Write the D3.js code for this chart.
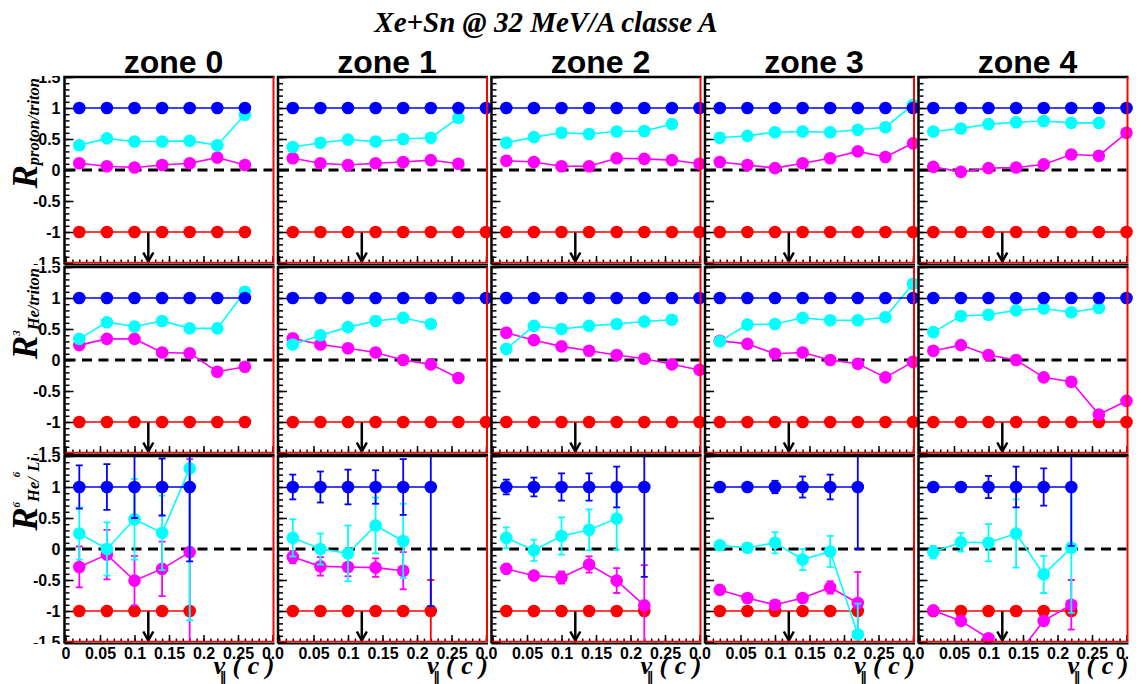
<!DOCTYPE html>
<html><head><meta charset="utf-8">
<script src="https://cdn.jsdelivr.net/npm/d3@7"></script>
<style>body{margin:0;background:#fff;} svg{display:block;}</style>
</head><body>
<svg id="chart" width="1141" height="684"></svg>
<script>
// ---------------- data ----------------
const title = "Xe+Sn @ 32 MeV/A classe A";
const zones = ["zone 0", "zone 1", "zone 2", "zone 3", "zone 4"];
const xBins = [0.02, 0.06, 0.10, 0.14, 0.18, 0.22, 0.26, 0.30];
const xTicks = [0, 0.05, 0.1, 0.15, 0.2, 0.25, 0.3];
const xTickLabels = ["0", "0.05", "0.1", "0.15", "0.2", "0.25", "0.3"];
const yTicks = [-1.5, -1, -0.5, 0, 0.5, 1, 1.5];
const yTickLabels = ["-1.5", "-1", "-0.5", "0", "0.5", "1", "1.5"];
const arrowX = 0.12;
const axisTitleX = ["v", "\u2016", "( c )"];
const rowTitles = [
  [["R", "big"], ["proton/triton", "sub"]],
  [["R", "big"], ["3", "sup"], ["He/triton", "sub"]],
  [["R", "big"], ["6", "sup"], ["He/", "sub"], ["6", "sup"], ["Li", "sub"]]
];

// row 1 : R proton/triton
const ptBlue = [[1,1,1,1,1,1,1],[1,1,1,1,1,1,1,1],[1,1,1,1,1,1,1,1],[1,1,1,1,1,1,1,1],[1,1,1,1,1,1,1,1]];
const ptCyan = [
  [0.40,0.51,0.46,0.46,0.47,0.40,0.89],
  [0.37,0.44,0.49,0.46,0.50,0.52,0.84],
  [0.44,0.53,0.60,0.58,0.62,0.63,0.74],
  [0.52,0.55,0.61,0.62,0.61,0.65,0.69,1.05],
  [0.62,0.67,0.74,0.77,0.79,0.76,0.76]
];
const ptMagenta = [
  [0.11,0.06,0.04,0.08,0.11,0.20,0.08],
  [0.19,0.11,0.08,0.11,0.13,0.16,0.10],
  [0.15,0.13,0.06,0.06,0.19,0.18,0.16,0.10],
  [0.13,0.08,0.03,0.11,0.19,0.30,0.21,0.43],
  [0.05,-0.03,0.03,0.04,0.09,0.25,0.23,0.60]
];
const ptRed = [[-1,-1,-1,-1,-1,-1,-1],[-1,-1,-1,-1,-1,-1,-1,-1],[-1,-1,-1,-1,-1,-1,-1,-1],[-1,-1,-1,-1,-1,-1,-1,-1],[-1,-1,-1,-1,-1,-1,-1,-1]];

// row 2 : R 3He/triton
const he3Blue = [[1,1,1,1,1,1,1],[1,1,1,1,1,1,1,1],[1,1,1,1,1,1,1,1],[1,1,1,1,1,1,1,1],[1,1,1,1,1,1,1,1]];
const he3Cyan = [
  [0.34,0.61,0.54,0.63,0.51,0.51,1.10],
  [0.25,0.40,0.53,0.63,0.68,0.58],
  [0.18,0.55,0.50,0.55,0.58,0.62,0.65],
  [0.30,0.57,0.58,0.68,0.64,0.64,0.69,1.23],
  [0.45,0.71,0.73,0.80,0.83,0.77,0.84]
];
const he3Magenta = [
  [0.24,0.34,0.34,0.12,0.11,-0.19,-0.11],
  [0.35,0.25,0.19,0.12,0.00,-0.07,-0.29],
  [0.44,0.32,0.22,0.15,0.08,0.02,-0.07,-0.16],
  [0.31,0.26,0.10,0.12,0.00,-0.06,-0.28,-0.03],
  [0.15,0.24,0.08,0.00,-0.28,-0.35,-0.88,-0.66]
];
const he3Red = [[-1,-1,-1,-1,-1,-1,-1],[-1,-1,-1,-1,-1,-1,-1,-1],[-1,-1,-1,-1,-1,-1,-1,-1],[-1,-1,-1,-1,-1,-1,-1,-1],[-1,-1,-1,-1,-1,-1,-1,-1]];

// row 3 : R 6He/6Li (with errors)
const he6Blue = [[1,1,1,1,1],[1,1,1,1,1,1],[1,1,1,1,1,1],[1,1,1,1,1,1],[1,1,1,1,1,1]];
const he6BlueErr = [[0.35,0.37,0.5,0.46,1.2],[0.2,0.25,0.28,0.27,0.45,1.92],[0.12,0.15,0.22,0.22,0.33,1.45],[0,0,0.1,0.17,0.2,1.0],[0,0.05,0.18,0.33,0.3,0.95]];
const he6Cyan = [[0.25,0.0,0.48,0.26,1.30],[0.18,0.0,-0.07,0.38,0.13],[0.18,-0.02,0.21,0.31,0.49],[0.06,0.02,0.10,-0.17,-0.04,-1.38],[-0.05,0.11,0.10,0.25,-0.41,0.02]];
const he6CyanErr = [[0.42,0.43,0.65,0.6,2.45],[0.3,0.25,0.45,0.45,0.6],[0.17,0.17,0.3,0.33,0.5],[0,0.05,0.17,0.17,0.25,0.5],[0.1,0.15,0.3,0.55,0.3,1.05]];
const he6Magenta = [[-0.29,-0.09,-0.51,-0.32,-0.05],[-0.13,-0.28,-0.29,-0.30,-0.35],[-0.32,-0.43,-0.46,-0.25,-0.51,-0.91],[-0.66,-0.79,-0.90,-0.79,-0.62,-0.87],[-0.99,-1.16,-1.44,-1.73,-1.16,-0.90]];
const he6MagentaErr = [[0.33,0.4,0.4,0.44,1.5],[0.1,0.15,0.15,0.15,0.3],[0.03,0.05,0.1,0.13,0.2,0.65],[0,0,0,0,0.1,0.5],[0,0,0,0,0,0.4]];
const he6Red = [[-1,-1,-1,-1,-1],[-1,-1,-1,-1,-1,-1],[-1,-1,-1,-1,-1,-1],[-1,-1,-1,-1,-1,-1],[-1,-1,-1,-1,-1,-1]];
const he6RedErr = [[0,0,0,0,0],[0,0,0,0,0,0.5],[0,0,0,0,0,0],[0,0,0,0,0,0],[0,0,0,0,0,0.05]];

// ---------------- layout / style ----------------
const colors = {red: "#ff0000", magenta: "#ff00ff", cyan: "#00ffff", blue: "#0000ff"};
const rowSeries = [
  [["red", ptRed, null], ["magenta", ptMagenta, null], ["cyan", ptCyan, null], ["blue", ptBlue, null]],
  [["red", he3Red, null], ["magenta", he3Magenta, null], ["cyan", he3Cyan, null], ["blue", he3Blue, null]],
  [["red", he6Red, he6RedErr], ["magenta", he6Magenta, he6MagentaErr], ["cyan", he6Cyan, he6CyanErr], ["blue", he6Blue, he6BlueErr]]
];
const X0 = 65.5, COL_STEP = 213.5, PLOT_W = 207, PLOT_H = 186;
const ROW_TOPS = [77, 267, 456];
const SANS = "'Liberation Sans', Arial, Helvetica, sans-serif";
const SERIF = "'Liberation Serif', 'Times New Roman', serif";

const svg = d3.select("#chart");
svg.append("rect").attr("width", 1141).attr("height", 684).attr("fill", "#fff");
const defs = svg.append("defs");

// title
svg.append("text").attr("x", 546).attr("y", 32).attr("text-anchor", "middle")
  .attr("font-family", SERIF).attr("font-style", "italic").attr("font-weight", "bold")
  .attr("font-size", 29).text(title);

// zone titles
zones.forEach((zn, z) => {
  svg.append("text").attr("x", X0 + z * COL_STEP + 108).attr("y", 73).attr("text-anchor", "middle")
    .attr("font-family", SANS).attr("font-weight", "bold").attr("font-size", 32).text(zn);
});

// row titles
rowTitles.forEach((parts, r) => {
  const t = svg.append("text")
    .attr("transform", `translate(37,${ROW_TOPS[r] + 1}) rotate(-90)`)
    .attr("text-anchor", "end").attr("font-family", SERIF)
    .attr("font-style", "italic").attr("font-weight", "bold");
  let level = 0;
  parts.forEach(([txt, kind]) => {
    const target = kind === "sup" ? -17 : (kind === "sub" ? 2 : 0);
    const size = kind === "big" ? 35 : (kind === "sup" ? 11 : 16.5);
    t.append("tspan").attr("dy", target - level).attr("font-size", size).text(txt);
    level = target;
  });
});

function drawPanel(r, z) {
  const x0 = X0 + z * COL_STEP, top = ROW_TOPS[r];
  const x = d3.scaleLinear().domain([0, 0.3]).range([x0, x0 + PLOT_W]);
  const y = d3.scaleLinear().domain([-1.5, 1.5]).range([top + PLOT_H, top]);
  const g = svg.append("g");
  const cid = `clip-${r}-${z}`;
  defs.append("clipPath").attr("id", cid).append("rect")
    .attr("x", x0).attr("y", top).attr("width", PLOT_W + 2).attr("height", PLOT_H);

  // axes (ticks inside)
  const yMajor = d3.axisLeft(y).tickValues(yTicks).tickSize(-8).tickPadding(5)
    .tickFormat((d, i) => z === 0 ? yTickLabels[i] : "");
  const yMinor = d3.axisLeft(y).tickValues(d3.range(-15, 16).map(k => k / 10)).tickSize(-4).tickFormat("");
  const ycid = `yclip-${r}-${z}`;
  defs.append("clipPath").attr("id", ycid).append("rect")
    .attr("x", 0).attr("y", top - 1).attr("width", x0 + 10).attr("height", PLOT_H + 3);
  g.append("g").attr("clip-path", `url(#${ycid})`)
    .append("g").attr("transform", `translate(${x0},0)`).call(yMajor);
  g.append("g").attr("transform", `translate(${x0},0)`).call(yMinor);

  const xMajor = d3.axisBottom(x).tickValues(xTicks).tickSize(-7).tickPadding(6)
    .tickFormat((d, i) => r === 2 ? xTickLabels[i] : "");
  const xMinor = d3.axisBottom(x).tickValues(d3.range(0, 31).map(k => k / 100)).tickSize(-3.5).tickFormat("");
  const xcid = `xclip-${r}-${z}`;
  defs.append("clipPath").attr("id", xcid).append("rect")
    .attr("x", x0 - 4).attr("y", top).attr("width", PLOT_W + 6).attr("height", PLOT_H + 40);
  g.append("g").attr("clip-path", `url(#${xcid})`)
    .append("g").attr("transform", `translate(0,${top + PLOT_H})`).call(xMajor);
  g.append("g").attr("transform", `translate(0,${top + PLOT_H})`).call(xMinor);

  g.selectAll(".domain").remove();
  g.selectAll(".tick line").attr("stroke", "#000").attr("stroke-width", 1.5);
  g.selectAll(".tick text").attr("font-family", SANS).attr("font-weight", "bold")
    .attr("font-size", 16).attr("fill", "#000");

  // dashed zero line
  g.append("line").attr("x1", x(0)).attr("x2", x(0.3)).attr("y1", y(0)).attr("y2", y(0))
    .attr("stroke", "#000").attr("stroke-width", 3).attr("stroke-dasharray", "10,6.5");

  // arrow at v = 0.12
  const ax = x(arrowX), ab = y(-1.5) - 1.5;
  g.append("line").attr("x1", ax).attr("x2", ax).attr("y1", y(-1)).attr("y2", ab)
    .attr("stroke", "#000").attr("stroke-width", 2.5);
  g.append("path").attr("d", `M${ax - 5},${ab - 9}L${ax},${ab}L${ax + 5},${ab - 9}`)
    .attr("fill", "none").attr("stroke", "#000").attr("stroke-width", 2.5);

  // series
  const line = d3.line().x(d => x(d.x)).y(d => y(d.v));
  rowSeries[r].forEach(([cname, vals, errs]) => {
    const col = colors[cname];
    const pts = vals[z].map((v, i) => ({x: xBins[i], v: v, e: errs ? errs[z][i] : 0}));
    g.append("path").datum(pts).attr("d", line).attr("clip-path", `url(#${cid})`)
      .attr("fill", "none").attr("stroke", col).attr("stroke-width", 1.6);
    const eg = g.append("g").attr("clip-path", `url(#${cid})`);
    pts.filter(d => d.e > 0).forEach(d => {
      const px = x(d.x), y1 = y(d.v + d.e), y2 = y(d.v - d.e);
      eg.append("line").attr("x1", px).attr("x2", px).attr("y1", y1).attr("y2", y2)
        .attr("stroke", col).attr("stroke-width", 1.8);
      [y1, y2].forEach(yy => eg.append("line").attr("x1", px - 3.5).attr("x2", px + 3.5)
        .attr("y1", yy).attr("y2", yy).attr("stroke", col).attr("stroke-width", 1.8));
    });
    g.selectAll(null).data(pts.filter(d => d.v >= -1.5 && d.v <= 1.5)).enter().append("circle")
      .attr("cx", d => x(d.x)).attr("cy", d => y(d.v)).attr("r", 6.3).attr("fill", col);
  });

  // frame: black left/top/bottom, red right/bottom
  g.append("path").attr("d", `M${x0 - 1},${top + PLOT_H + 1.5}V${top}H${x0 + PLOT_W + 2}`)
    .attr("fill", "none").attr("stroke", "#000").attr("stroke-width", 2.5);
  g.append("line").attr("x1", x0 - 1).attr("x2", x0 + PLOT_W + 2).attr("y1", top + PLOT_H + 1.5).attr("y2", top + PLOT_H + 1.5)
    .attr("stroke", "#000").attr("stroke-width", 2);
  g.append("line").attr("x1", x0 + PLOT_W + 1).attr("x2", x0 + PLOT_W + 1).attr("y1", top).attr("y2", top + PLOT_H)
    .attr("stroke", "#ff0000").attr("stroke-width", 2);
  g.append("line").attr("x1", x0).attr("x2", x0 + PLOT_W + 1).attr("y1", top + PLOT_H - 0.5).attr("y2", top + PLOT_H - 0.5)
    .attr("stroke", "#ff0000").attr("stroke-width", 1.5);

  // x axis title in bottom row
  if (r === 2) {
    const by = top + PLOT_H;
    svg.append("text").attr("x", x0 + 148).attr("y", by + 32).attr("font-family", SERIF)
      .attr("font-style", "italic").attr("font-weight", "bold").attr("font-size", 26).text(axisTitleX[0]);
    svg.append("text").attr("x", x0 + 157.5).attr("y", by + 39.5).attr("text-anchor", "middle")
      .attr("font-family", "'DejaVu Sans', sans-serif").attr("font-weight", "bold").attr("font-size", 14).text(axisTitleX[1]);
    svg.append("text").attr("x", x0 + 167).attr("y", by + 32).attr("font-family", SERIF)
      .attr("font-style", "italic").attr("font-weight", "bold").attr("font-size", 26).text(axisTitleX[2]);
  }
}

for (let r = 0; r < 3; r++) for (let z = 0; z < 5; z++) drawPanel(r, z);
</script>
</body></html>
